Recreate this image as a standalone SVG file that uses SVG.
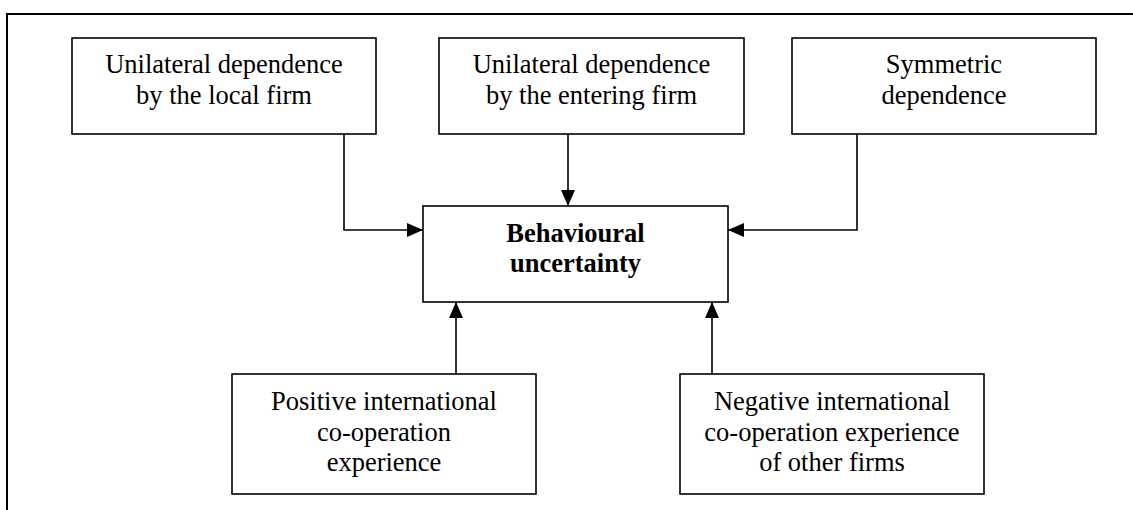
<svg xmlns="http://www.w3.org/2000/svg" width="1133" height="510" viewBox="0 0 1133 510">
  <style>
    .box { fill: #ffffff; stroke: #000000; stroke-width: 1.6; }
    .frame { fill: none; stroke: #000000; stroke-width: 2; }
    .link { fill: none; stroke: #000000; stroke-width: 1.6; }
    .label { font-family: "Liberation Serif", "Times New Roman", serif; font-size: 26.5px; fill: #000000; text-anchor: middle; }
    .bold { font-weight: bold; }
  </style>
  <defs>
    <marker id="arrow" viewBox="0 0 16 14" refX="16" refY="7" markerWidth="16" markerHeight="14" markerUnits="userSpaceOnUse" orient="auto">
      <path d="M0,0 L16,7 L0,14 Z" fill="#000000"/>
    </marker>
  </defs>
  <rect width="1133" height="510" fill="#ffffff"/>

  <!-- enclosing frame: top and left edges -->
  <path class="frame" d="M7,510 L7,14 L1133,14"/>

  <g id="connectors">
    <path class="link" d="M344,134 L344,230 L423,230" marker-end="url(#arrow)"/>
    <path class="link" d="M568,134 L568,206" marker-end="url(#arrow)"/>
    <path class="link" d="M857,134 L857,230 L728,230" marker-end="url(#arrow)"/>
    <path class="link" d="M456,374 L456,302" marker-end="url(#arrow)"/>
    <path class="link" d="M712,374 L712,302" marker-end="url(#arrow)"/>
  </g>

  <g id="local-firm">
    <rect class="box" x="72" y="38" width="304" height="96"/>
    <text class="label" x="224" y="73">Unilateral dependence</text>
    <text class="label" x="224" y="104">by the local firm</text>
  </g>

  <g id="entering-firm">
    <rect class="box" x="439" y="38" width="305" height="96"/>
    <text class="label" x="591.5" y="73">Unilateral dependence</text>
    <text class="label" x="591.5" y="104">by the entering firm</text>
  </g>

  <g id="symmetric">
    <rect class="box" x="792" y="38" width="304" height="96"/>
    <text class="label" x="944" y="73">Symmetric</text>
    <text class="label" x="944" y="104">dependence</text>
  </g>

  <g id="behavioural-uncertainty">
    <rect class="box" x="423" y="206" width="305" height="96"/>
    <text class="label bold" x="575.5" y="242">Behavioural</text>
    <text class="label bold" x="575.5" y="272">uncertainty</text>
  </g>

  <g id="positive-experience">
    <rect class="box" x="232" y="374" width="304" height="120"/>
    <text class="label" x="384" y="410">Positive international</text>
    <text class="label" x="384" y="440.5">co-operation</text>
    <text class="label" x="384" y="471">experience</text>
  </g>

  <g id="negative-experience">
    <rect class="box" x="680" y="374" width="304" height="120"/>
    <text class="label" x="832" y="410">Negative international</text>
    <text class="label" x="832" y="440.5">co-operation experience</text>
    <text class="label" x="832" y="471">of other firms</text>
  </g>
</svg>
